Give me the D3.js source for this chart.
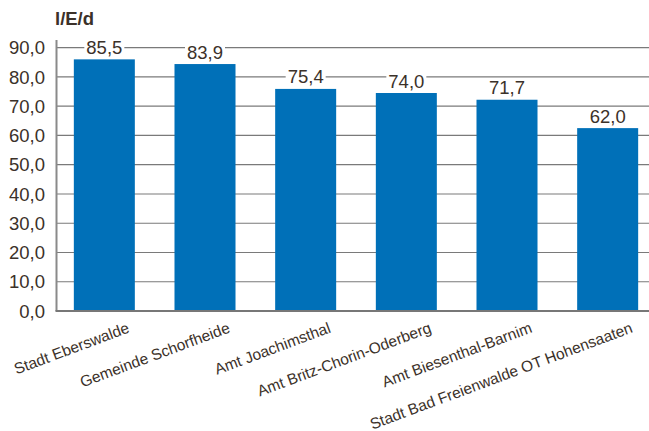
<!DOCTYPE html>
<html>
<head>
<meta charset="utf-8">
<script src="https://cdn.jsdelivr.net/npm/d3@7"></script>
<style>
  body { margin: 0; background: #fff; }
  svg { display: block; font-family: "Liberation Sans", Arial, sans-serif; }
</style>
</head>
<body>
<svg id="chart" width="649" height="431"></svg>
<script>
const categories = [
  "Stadt Eberswalde",
  "Gemeinde Schorfheide",
  "Amt Joachimsthal",
  "Amt Britz-Chorin-Oderberg",
  "Amt Biesenthal-Barnim",
  "Stadt Bad Freienwalde OT Hohensaaten"
];
const values = [85.5, 83.9, 75.4, 74.0, 71.7, 62.0];
const yTicks = [0, 10, 20, 30, 40, 50, 60, 70, 80, 90];
const unitLabel = "l/E/d";

const textColor = "#3b3129";
const barColor = "#0070b8";

const svg = d3.select("#chart");

const x = d3.scaleBand()
  .domain(categories)
  .range([54, 658])
  .paddingInner(0.394)
  .paddingOuter(0.197);

const y = d3.scaleLinear()
  .domain([0, 90])
  .range([311, 47.7]);

const fmt = function (v) { return v.toFixed(1).replace(".", ","); };

// gridlines
svg.append("g")
  .selectAll("line")
  .data(yTicks.filter(function (d) { return d > 0; }))
  .enter()
  .append("line")
  .attr("x1", 56)
  .attr("x2", 649)
  .attr("y1", function (d) { return y(d); })
  .attr("y2", function (d) { return y(d); })
  .attr("stroke", "#7a7a7a")
  .attr("stroke-width", 1.2);

// y tick labels
svg.append("g")
  .selectAll("text")
  .data(yTicks)
  .enter()
  .append("text")
  .attr("x", 45)
  .attr("y", function (d) { return y(d); })
  .attr("dy", "0.36em")
  .attr("text-anchor", "end")
  .attr("font-size", 18.5)
  .attr("fill", textColor)
  .text(fmt);

// bars
svg.append("g")
  .selectAll("rect")
  .data(values)
  .enter()
  .append("rect")
  .attr("x", function (d, i) { return x(categories[i]); })
  .attr("y", function (d) { return y(d) - 1.5; })
  .attr("width", x.bandwidth())
  .attr("height", function (d) { return y(0) - y(d) + 1.5; })
  .attr("fill", barColor);

// value labels with white backdrop
const labels = svg.append("g")
  .selectAll("g")
  .data(values)
  .enter()
  .append("g")
  .attr("transform", function (d, i) {
    return `translate(${x(categories[i]) + x.bandwidth() / 2},${y(d) - 7})`;
  });

labels.append("rect")
  .attr("x", -20)
  .attr("y", -15)
  .attr("width", 40)
  .attr("height", 17)
  .attr("fill", "#fff");

labels.append("text")
  .attr("text-anchor", "middle")
  .attr("font-size", 18.5)
  .attr("fill", textColor)
  .text(fmt);

// axes lines
svg.append("line")
  .attr("x1", 56.5).attr("x2", 56.5)
  .attr("y1", 40).attr("y2", y(0))
  .attr("stroke", "#8a8a8a")
  .attr("stroke-width", 2);

svg.append("line")
  .attr("x1", 55.5).attr("x2", 649)
  .attr("y1", y(0)).attr("y2", y(0))
  .attr("stroke", "#777")
  .attr("stroke-width", 2);

// category labels
svg.append("g")
  .selectAll("text")
  .data(categories)
  .enter()
  .append("text")
  .attr("transform", function (d) {
    return `translate(${x(d) + x.bandwidth() / 2 + 26},332) rotate(-20.5)`;
  })
  .attr("text-anchor", "end")
  .attr("font-size", 15.5)
  .attr("fill", textColor)
  .text(function (d) { return d; });

// unit title
svg.append("text")
  .attr("x", 55)
  .attr("y", 25)
  .attr("font-size", 18.5)
  .attr("font-weight", "bold")
  .attr("fill", textColor)
  .text(unitLabel);
</script>
</body>
</html>
